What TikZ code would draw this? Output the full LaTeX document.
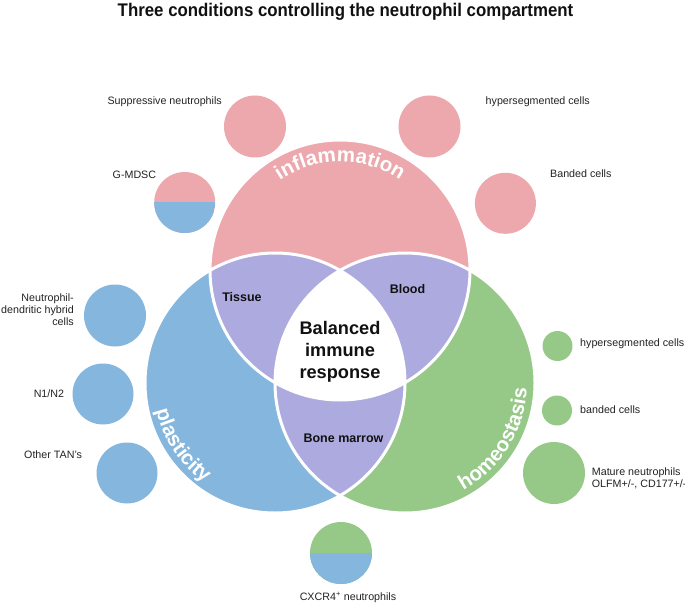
\documentclass[tikz,border=0pt]{standalone}
\usepackage{fontspec}
\usepackage{graphicx}
\setmainfont{Liberation Sans}
\usetikzlibrary{decorations.text}
\definecolor{pinkc}{RGB}{236,168,173}
\definecolor{bluec}{RGB}{132,182,222}
\definecolor{greenc}{RGB}{150,201,136}
\definecolor{purplec}{RGB}{172,170,222}
\definecolor{labelc}{RGB}{34,34,34}
\definecolor{darkc}{RGB}{17,17,17}
\tikzset{
  lbl/.style={font=\fontsize{10.7}{12.3}\selectfont, text=labelc, inner sep=0pt},
  region/.style={font=\fontsize{12.5}{15}\selectfont\bfseries, text=darkc, inner sep=0pt},
  cell/.style={circle, inner sep=0pt, minimum size=#1},
  halfbottom/.style={path picture={\fill[#1] (path picture bounding box.west) rectangle (path picture bounding box.south east);}},
  sep/.style={draw=white, line width=3pt},
  arcword/.style={decorate, decoration={text along path, text align=center, text color=white, text={|\fontsize{20.5}{24}\selectfont\bfseries|#1}}}
}
\begin{document}
\begin{tikzpicture}[x=1pt,y=1pt]
\useasboundingbox (0,0) rectangle (685,-604);
% title
\node[font=\fontsize{18.3}{22}\selectfont\bfseries, text=darkc, anchor=base, inner sep=0pt] (title) at (345.5,-17) {\scalebox{0.92}[1]{Three conditions controlling the neutrophil compartment}};
% big Venn circles
\coordinate (P) at (340,-270);
\coordinate (B) at (275,-383);
\coordinate (G) at (405,-383);
\fill[pinkc] (P) circle[radius=130];
\fill[bluec] (B) circle[radius=130];
\fill[greenc] (G) circle[radius=130];
\begin{scope}
  \clip (P) circle[radius=130];
  \fill[purplec] (B) circle[radius=130];
  \fill[purplec] (G) circle[radius=130];
\end{scope}
\begin{scope}
  \clip (B) circle[radius=130];
  \fill[purplec] (G) circle[radius=130];
\end{scope}
\begin{scope}
  \clip (P) circle[radius=130];
  \clip (B) circle[radius=130];
  \fill[white] (G) circle[radius=130];
\end{scope}
\draw[sep] (P) circle[radius=130];
\draw[sep] (B) circle[radius=130];
\draw[sep] (G) circle[radius=130];
% curved words
\path[arcword=inflammation] (P) ++(150:108) arc[start angle=150, end angle=30, radius=108];
\path[arcword=plasticity] (B) ++(174:122) arc[start angle=174, end angle=254, radius=122];
\path[arcword=homeostasis] (G) ++(288:122) arc[start angle=288, end angle=368, radius=122];
% region labels
\node[region, anchor=base] (tissue) at (242,-301.3) {Tissue};
\node[region, anchor=base] (blood) at (407.5,-293.5) {Blood};
\node[region, anchor=base] (marrow) at (343.5,-442.3) {Bone marrow};
\node[align=center, font=\fontsize{18.2}{22}\selectfont\bfseries, text=darkc, inner sep=0pt] (balanced) at (340,-351.3) {Balanced\\immune\\response};
% small cell circles
\node[cell=62pt, fill=pinkc] (supp) at (255,-126.5) {};
\node[cell=62pt, fill=pinkc] (hyperP) at (429.5,-126.5) {};
\node[cell=61pt, fill=pinkc, halfbottom=bluec] (gmdsc) at (184.7,-202.5) {};
\node[cell=61pt, fill=pinkc] (bandedP) at (505.4,-203.3) {};
\node[cell=62pt, fill=bluec] (ndh) at (115,-315.5) {};
\node[cell=61pt, fill=bluec] (n1n2) at (103,-394) {};
\node[cell=61pt, fill=bluec] (tan) at (127,-473) {};
\node[cell=30pt, fill=greenc] (hyperG) at (557.5,-346) {};
\node[cell=30pt, fill=greenc] (bandedG) at (557,-410.5) {};
\node[cell=62pt, fill=greenc] (mature) at (554,-473) {};
\node[cell=62pt, fill=greenc, halfbottom=bluec] (cxcr) at (341,-553) {};
% small labels
\node[lbl, anchor=base east] (supplbl) at (222,-105) {Suppressive neutrophils};
\node[lbl, anchor=base west] (hyperPlbl) at (485.5,-104.2) {hypersegmented cells};
\node[lbl, anchor=base west] (gmdsclbl) at (112.5,-178.5) {G-MDSC};
\node[lbl, anchor=base west] (bandedPlbl) at (550,-177.8) {Banded cells};
\node[lbl, anchor=base east] (ndh1) at (74,-301.2) {Neutrophil-};
\node[lbl, anchor=base east] (ndh2) at (74,-313.5) {dendritic hybrid};
\node[lbl, anchor=base east] (ndh3) at (74,-325.8) {cells};
\node[lbl, anchor=base east] (n1n2lbl) at (64.3,-397.8) {N1/N2};
\node[lbl, anchor=base west] (tanlbl) at (24,-458.5) {Other TAN's};
\node[lbl, anchor=base west] (hyperGlbl) at (580,-346.8) {hypersegmented cells};
\node[lbl, anchor=base west] (bandedGlbl) at (580,-413.5) {banded cells};
\node[lbl, anchor=base west] (mature1) at (591.7,-475.8) {Mature neutrophils};
\node[lbl, anchor=base west] (mature2) at (591.7,-487.8) {OLFM+/-, CD177+/-};
\node[lbl, anchor=base] (cxcrlbl) at (348,-600.2) {CXCR4\textsuperscript{+} neutrophils};
\end{tikzpicture}
\end{document}
